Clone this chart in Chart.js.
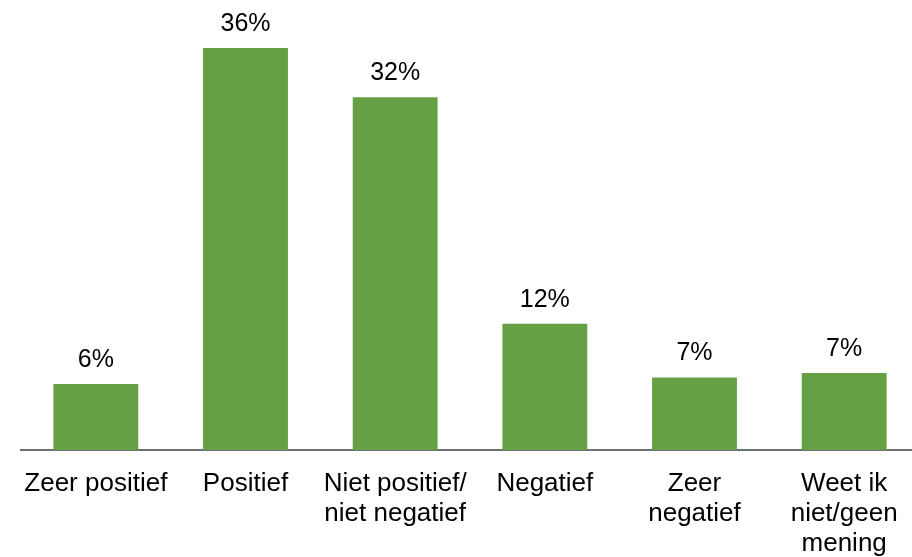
<!DOCTYPE html>
<html>
<head>
<meta charset="utf-8">
<script src="https://cdn.jsdelivr.net/npm/chart.js@4/dist/chart.umd.min.js"></script>
<style>
  html, body { margin: 0; padding: 0; background: #fff; overflow: hidden; }
  #wrap { width: 920px; height: 557px; position: relative; }
</style>
</head>
<body>
<div id="wrap"><canvas id="chart"></canvas></div>
<script>
// categories and values
const categories = [
    'Zeer positief',
    'Positief',
    ['Niet positief/', 'niet negatief'],
    'Negatief',
    ['Zeer', 'negatief'],
    ['Weet ik', 'niet/geen', 'mening']
];
const values = [5.9, 36.0, 31.6, 11.3, 6.5, 6.9];
const valueLabels = ['6%', '36%', '32%', '12%', '7%', '7%'];

// draws the percentage above each bar
const barLabels = {
    id: 'barLabels',
    afterDatasetsDraw(chart) {
        const ctx = chart.ctx;
        const meta = chart.getDatasetMeta(0);
        ctx.save();
        ctx.font = '25px "Liberation Sans", Arial, sans-serif';
        ctx.fillStyle = '#000';
        ctx.textAlign = 'center';
        ctx.textBaseline = 'alphabetic';
        meta.data.forEach((bar, i) => {
            ctx.fillText(valueLabels[i], bar.x, bar.y - 17);
        });
        ctx.restore();
    }
};

new Chart(document.getElementById('chart'), {
    type: 'bar',
    data: {
        labels: categories,
        datasets: [{
            data: values,
            backgroundColor: '#65a144',
            borderWidth: 0,
            categoryPercentage: 1,
            barPercentage: 0.567
        }]
    },
    options: {
        responsive: true,
        maintainAspectRatio: false,
        animation: false,
        layout: { padding: { left: 21, right: 1, top: 0, bottom: 0 } },
        plugins: {
            legend: { display: false },
            tooltip: { enabled: false }
        },
        scales: {
            x: {
                grid: { display: false },
                border: { display: true, color: '#6b7272', width: 2 },
                ticks: {
                    color: '#000',
                    padding: 11,
                    maxRotation: 0,
                    autoSkip: false,
                    font: { family: '"Liberation Sans", Arial, sans-serif', size: 26, lineHeight: 1.15 }
                },
                afterFit: scale => { scale.height = 107; }
            },
            y: {
                display: false,
                min: 0,
                max: 40.3
            }
        }
    },
    plugins: [barLabels]
});
</script>
</body>
</html>
